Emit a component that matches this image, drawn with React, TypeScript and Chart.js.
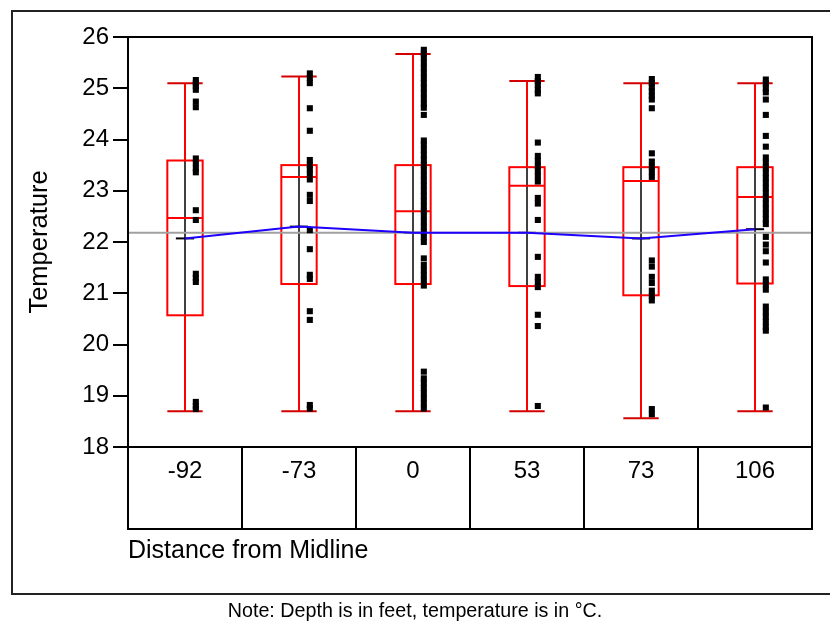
import React, { useEffect, useRef } from 'react';
import { Chart, registerables } from 'chart.js';

Chart.register(...registerables);

// ---------- data ----------
const CATEGORIES = ['-92', '-73', '0', '53', '73', '106'];
const WHISKER_HIGH = [25.1, 25.23, 25.67, 25.14, 25.1, 25.1];
const Q3 = [23.59, 23.5, 23.5, 23.46, 23.46, 23.46];
const MEDIAN = [22.47, 23.27, 22.6, 23.1, 23.19, 22.88];
const Q1 = [20.57, 21.18, 21.18, 21.14, 20.96, 21.19];
const WHISKER_LOW = [18.7, 18.7, 18.7, 18.7, 18.56, 18.7];
const MEANS = [22.07, 22.3, 22.18, 22.18, 22.07, 22.25];
const GRAND_MEAN = 22.18;
const Y_TICKS = [18, 19, 20, 21, 22, 23, 24, 25, 26];

const POINTS_M92 = [25.16, 25.1, 25.04, 24.97, 24.74, 24.63, 23.63, 23.54, 23.44, 23.36, 22.62, 22.43, 21.38, 21.3, 21.22, 18.88, 18.8, 18.74];
const POINTS_M73 = [25.29, 25.2, 25.1, 24.61, 24.17, 23.6, 23.5, 23.42, 23.33, 23.22, 22.92, 22.8, 22.23, 21.86, 21.36, 21.28, 20.65, 20.48, 18.82, 18.75];
const POINTS_0 = [25.75, 25.68, 25.6, 25.5, 25.4, 25.3, 25.2, 25.1, 25.0, 24.9, 24.8, 24.7, 24.62, 24.48, 23.98, 23.9, 23.8, 23.7, 23.6, 23.5, 23.4, 23.3, 23.2, 23.1, 23.0, 22.9, 22.8, 22.7, 22.6, 22.5, 22.4, 22.3, 22.2, 22.1, 22.0, 21.68, 21.55, 21.45, 21.35, 21.25, 21.15, 19.47, 19.34, 19.25, 19.15, 19.05, 18.95, 18.85, 18.75];
const POINTS_53 = [25.22, 25.14, 25.06, 24.97, 24.9, 23.94, 23.68, 23.58, 23.48, 23.38, 23.28, 23.18, 22.86, 22.75, 22.43, 21.71, 21.32, 21.22, 21.12, 20.58, 20.36, 18.8];
const POINTS_73 = [25.18, 25.1, 25.02, 24.94, 24.85, 24.78, 24.61, 23.73, 23.57, 23.47, 23.37, 23.27, 21.64, 21.52, 21.32, 21.2, 21.05, 20.95, 20.86, 18.74, 18.64];
const POINTS_106 = [25.17, 25.09, 25.0, 24.92, 24.78, 24.48, 24.07, 23.86, 23.65, 23.55, 23.45, 23.35, 23.25, 23.15, 23.05, 22.95, 22.85, 22.75, 22.65, 22.55, 22.45, 22.35, 22.1, 21.95, 21.82, 21.6, 21.27, 21.17, 21.07, 20.74, 20.64, 20.54, 20.44, 20.34, 20.27, 18.77];
const POINT_VALUES = [POINTS_M92, POINTS_M73, POINTS_0, POINTS_53, POINTS_73, POINTS_106];

const X_TITLE = 'Distance from Midline';
const Y_TITLE = 'Temperature';
const NOTE = 'Note: Depth is in feet, temperature is in °C.';

// ---------- style ----------
const FONT = "'Liberation Sans', Arial, Helvetica, sans-serif";
const BOX_HALF = 0.155; // category units
const MEAN_TICK_HALF = 0.08;
const POINT_OFFSET = 0.095;
const TABLE_HEIGHT = 82;

export default function App() {
  const ref = useRef<HTMLCanvasElement>(null);

  useEffect(() => {
    const canvas = ref.current!;

    const boxPlugin = {
      id: 'boxplotDecor',
      beforeDraw(chart: any) {
        const ctx = chart.ctx;
        ctx.save();
        ctx.strokeStyle = '#222';
        ctx.lineWidth = 2;
        ctx.strokeRect(12, 11, 830, 583);
        ctx.fillStyle = '#000';
        ctx.font = `19.7px ${FONT}`;
        ctx.textAlign = 'center';
        ctx.textBaseline = 'middle';
        ctx.fillText(NOTE, chart.width / 2, 612);
        ctx.restore();
      },
      beforeDatasetsDraw(chart: any) {
        const ctx = chart.ctx;
        const xs = chart.scales.x;
        const ys = chart.scales.y;
        const area = chart.chartArea;
        ctx.save();
        CATEGORIES.forEach((_, i) => {
          const xc = xs.getPixelForValue(i);
          const xl = xs.getPixelForValue(i - BOX_HALF);
          const xr = xs.getPixelForValue(i + BOX_HALF);
          const yHi = ys.getPixelForValue(WHISKER_HIGH[i]);
          const yQ3 = ys.getPixelForValue(Q3[i]);
          const yMed = ys.getPixelForValue(MEDIAN[i]);
          const yQ1 = ys.getPixelForValue(Q1[i]);
          const yLo = ys.getPixelForValue(WHISKER_LOW[i]);
          const yMean = ys.getPixelForValue(MEANS[i]);

          // whiskers
          ctx.strokeStyle = '#ff0000';
          ctx.lineWidth = 2;
          ctx.beginPath();
          ctx.moveTo(xc, yHi);
          ctx.lineTo(xc, yQ3);
          ctx.moveTo(xc, yQ1);
          ctx.lineTo(xc, yLo);
          ctx.stroke();
          // caps
          ctx.strokeStyle = '#d40000';
          ctx.beginPath();
          ctx.moveTo(xl, yHi);
          ctx.lineTo(xr, yHi);
          ctx.moveTo(xl, yLo);
          ctx.lineTo(xr, yLo);
          ctx.stroke();
          // black inner line
          ctx.strokeStyle = '#000';
          ctx.lineWidth = 1.5;
          ctx.beginPath();
          ctx.moveTo(xc, yQ3);
          ctx.lineTo(xc, yQ1);
          ctx.stroke();
          // mean tick
          ctx.lineWidth = 2;
          ctx.beginPath();
          ctx.moveTo(xs.getPixelForValue(i - MEAN_TICK_HALF), yMean);
          ctx.lineTo(xs.getPixelForValue(i + MEAN_TICK_HALF), yMean);
          ctx.stroke();
          // box
          ctx.strokeStyle = '#ff0000';
          ctx.lineWidth = 2;
          ctx.strokeRect(xl, yQ3, xr - xl, yQ1 - yQ3);
          ctx.beginPath();
          ctx.moveTo(xl, yMed);
          ctx.lineTo(xr, yMed);
          ctx.stroke();
        });
        // grand mean line
        const yG = ys.getPixelForValue(GRAND_MEAN);
        ctx.strokeStyle = '#a0a0a0';
        ctx.lineWidth = 2;
        ctx.beginPath();
        ctx.moveTo(area.left, yG);
        ctx.lineTo(area.right, yG);
        ctx.stroke();
        ctx.restore();
      },
      afterDraw(chart: any) {
        const ctx = chart.ctx;
        const xs = chart.scales.x;
        const area = chart.chartArea;
        ctx.save();
        ctx.strokeStyle = '#000';
        ctx.lineWidth = 2;
        ctx.strokeRect(area.left, area.top, area.right - area.left, area.bottom - area.top);
        // category table
        ctx.strokeRect(area.left, area.bottom, area.right - area.left, TABLE_HEIGHT);
        ctx.beginPath();
        for (let i = 0; i < CATEGORIES.length - 1; i++) {
          const xd = Math.round(xs.getPixelForValue(i + 0.5));
          ctx.moveTo(xd, area.bottom);
          ctx.lineTo(xd, area.bottom + TABLE_HEIGHT);
        }
        ctx.stroke();
        ctx.restore();
      },
    };

    const pointData = POINT_VALUES.flatMap((vals, i) =>
      vals.map((v) => ({ x: i + POINT_OFFSET, y: v }))
    );
    const meanData = MEANS.map((m, i) => ({ x: i, y: m }));

    const chart = new Chart(canvas, {
      type: 'scatter',
      data: {
        datasets: [
          {
            type: 'line',
            label: 'Mean',
            data: meanData,
            borderColor: 'rgb(30,0,255)',
            borderWidth: 2,
            pointRadius: 0,
            tension: 0,
            order: 0,
          } as any,
          {
            type: 'scatter',
            label: 'Temperature',
            data: pointData,
            pointStyle: 'rect',
            pointRadius: 4.3,
            backgroundColor: '#000',
            borderColor: '#000',
            borderWidth: 0,
            order: 1,
          },
        ],
      },
      options: {
        animation: false,
        responsive: false,
        devicePixelRatio: 1,
        layout: { padding: { left: 0, top: 37, right: 18, bottom: 57 } },
        plugins: { legend: { display: false }, tooltip: { enabled: false } },
        scales: {
          x: {
            type: 'linear',
            min: -0.5,
            max: 5.5,
            afterBuildTicks: (s: any) => {
              s.ticks = CATEGORIES.map((_, i) => ({ value: i }));
            },
            ticks: {
              callback: (v: any) => CATEGORIES[v] ?? '',
              color: '#000',
              font: { family: FONT, size: 24 },
              padding: 10,
              autoSkip: false,
              maxRotation: 0,
            },
            grid: { display: false, drawTicks: false },
            border: { display: false },
            title: {
              display: true,
              text: X_TITLE,
              align: 'start',
              color: '#000',
              font: { family: FONT, size: 25 },
              padding: { top: 0, bottom: 0 },
            },
            afterFit: (s: any) => {
              s.height = 119;
            },
          },
          y: {
            min: 18,
            max: 26,
            afterBuildTicks: (s: any) => {
              s.ticks = Y_TICKS.map((v) => ({ value: v }));
            },
            ticks: {
              color: '#000',
              font: { family: FONT, size: 24 },
              padding: 4,
            },
            grid: { drawOnChartArea: false, tickLength: 15, color: '#000', lineWidth: 2 },
            border: { display: true, color: '#000', width: 2 },
            title: {
              display: true,
              text: Y_TITLE,
              color: '#000',
              font: { family: FONT, size: 25.5 },
              padding: { top: 25, bottom: 0 },
            },
            afterFit: (s: any) => {
              s.width = 128;
            },
          },
        },
      },
      plugins: [boxPlugin],
    });

    return () => chart.destroy();
  }, []);

  return (
    <canvas
      ref={ref}
      width={830}
      height={623}
      style={{ position: 'absolute', left: 0, top: 0, display: 'block' }}
    />
  );
}
